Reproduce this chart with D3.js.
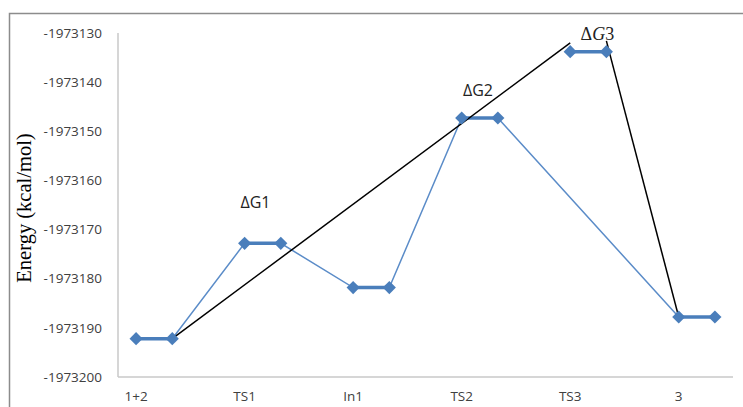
<!DOCTYPE html>
<html>
<head>
<meta charset="utf-8">
<script src="https://cdn.jsdelivr.net/npm/d3@7"></script>
<style>
  body { margin: 0; background: #fff; }
  svg { display: block; }
  .tick-label { font-family: "Open Sans", sans-serif; font-size: 13.5px; fill: #404040; }
</style>
</head>
<body>
<script>
var w = 743;
var h = 407;

// states along the reaction path and their energies (kcal/mol)
var states = ["1+2", "TS1", "In1", "TS2", "TS3", "3"];
var energies = [-1973192.2, -1973172.8, -1973181.8, -1973147.3, -1973133.8, -1973187.8];
// states joined by the thin blue connector (TS3 sits apart)
var pathStates = [0, 1, 2, 3, 5];
var yTicks = [-1973130, -1973140, -1973150, -1973160, -1973170, -1973180, -1973190, -1973200];

// the hand drawn black guide lines (slot, energy)
var guide1 = [[1, -1973192.2], [12, -1973132.0]];
var guide2 = [[13, -1973131.6], [15, -1973187.8]];

var deltaLabels = ["ΔG1", "ΔG2", "ΔG3"];
var deltaSlots = [3.3, 9.45, 12.75];
var deltaEnergies = [-1973164.4, -1973141.6, -1973130.1];

var nSlots = 17; // excel category slots, each state takes 2, one blank between

var x = d3.scaleLinear()
  .domain([-0.5, nSlots - 0.5])
  .range([118, 733]);

var y = d3.scaleLinear()
  .domain([-1973200, -1973130])
  .range([377, 33]);

var svg = d3.select("body").append("svg")
  .attr("width", w)
  .attr("height", h);

// outer frame
svg.append("rect")
  .attr("x", 9.5).attr("y", 13.5)
  .attr("width", w + 20).attr("height", h + 20)
  .attr("fill", "none")
  .attr("stroke", "#8c8c8c")
  .attr("stroke-width", 1.5);

// axes lines
svg.append("line")
  .attr("x1", x.range()[0]).attr("x2", x.range()[0])
  .attr("y1", y(-1973130)).attr("y2", y(-1973200))
  .attr("stroke", "#c8c8c8").attr("stroke-width", 1.5);
svg.append("line")
  .attr("x1", x.range()[0]).attr("x2", x.range()[1])
  .attr("y1", y(-1973200)).attr("y2", y(-1973200))
  .attr("stroke", "#c8c8c8").attr("stroke-width", 1.5);

// y tick labels
svg.selectAll(".ylab")
  .data(yTicks)
  .enter()
    .append("text")
    .attr("class", "tick-label")
    .attr("x", 102)
    .attr("y", d => y(d))
    .attr("dy", "0.35em")
    .attr("text-anchor", "end")
    .text(d => d);

// x labels at the first slot of each state
svg.selectAll(".xlab")
  .data(states)
  .enter()
    .append("text")
    .attr("class", "tick-label")
    .attr("x", (d, i) => x(i * 3))
    .attr("y", 401)
    .attr("text-anchor", "middle")
    .text(d => d);

// y title
svg.append("text")
  .attr("transform", "translate(31," + 208 + ") rotate(-90)")
  .attr("text-anchor", "middle")
  .style("font-family", "'Liberation Serif', 'Times New Roman', serif")
  .style("font-size", "20.5px")
  .attr("fill", "#000")
  .text("Energy (kcal/mol)");

// points: each state drawn at slots 3i and 3i+1
var pts = [];
energies.forEach((e, i) => {
  pts.push([i * 3, e]);
  pts.push([i * 3 + 1, e]);
});

var conn = [];
pathStates.forEach(i => {
  conn.push([i * 3, energies[i]]);
  conn.push([i * 3 + 1, energies[i]]);
});

var line = d3.line()
  .x(d => x(d[0]))
  .y(d => y(d[1]));

var blue = "#4a7ebb";

svg.append("path")
  .datum(conn)
  .attr("d", line)
  .attr("fill", "none")
  .attr("stroke", "#5b8cc8")
  .attr("stroke-width", 1.5);

svg.selectAll(".level")
  .data(energies)
  .enter()
    .append("line")
    .attr("x1", (d, i) => x(i * 3))
    .attr("x2", (d, i) => x(i * 3 + 1))
    .attr("y1", d => y(d))
    .attr("y2", d => y(d))
    .attr("stroke", blue)
    .attr("stroke-width", 3.5);

// black guides
[guide1, guide2].forEach(g => {
  svg.append("path")
    .datum(g)
    .attr("d", line)
    .attr("fill", "none")
    .attr("stroke", "#000")
    .attr("stroke-width", 1.5);
});

// diamond markers
svg.selectAll(".pt")
  .data(pts)
  .enter()
    .append("path")
    .attr("d", d3.symbol().type(d3.symbolDiamond2).size(110))
    .attr("transform", d => "translate(" + x(d[0]) + "," + y(d[1]) + ")")
    .attr("fill", blue);

// delta G labels
svg.selectAll(".dg")
  .data(deltaLabels)
  .enter()
    .append("text")
    .attr("x", (d, i) => x(deltaSlots[i]))
    .attr("y", (d, i) => y(deltaEnergies[i]))
    .attr("dy", "0.35em")
    .attr("text-anchor", "middle")
    .style("font-family", "'Open Sans', sans-serif")
    .style("font-size", "16px")
    .attr("fill", "#222")
    .each(function(d, i) {
      var t = d3.select(this);
      if (i === 2) {
        t.style("font-family", "'Liberation Serif', serif").style("font-size", "18px");
        t.append("tspan").text("Δ");
        t.append("tspan").style("font-style", "italic").text("G");
        t.append("tspan").text("3");
      } else {
        t.text(d);
      }
    });
</script>
</body>
</html>
